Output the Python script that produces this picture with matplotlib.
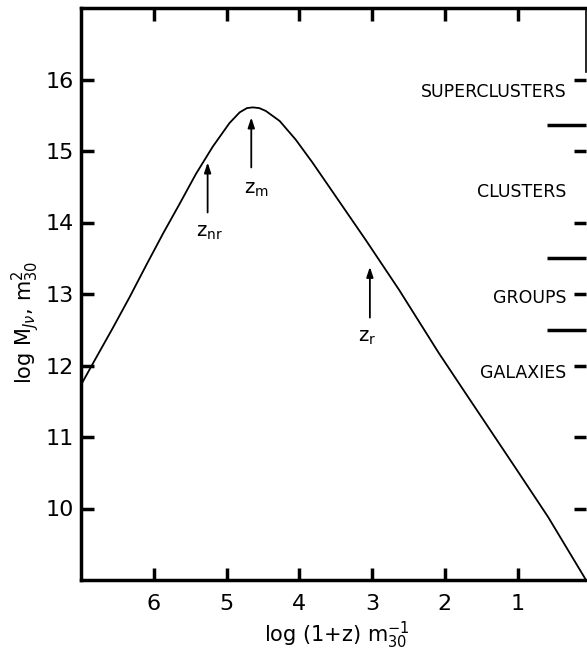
import matplotlib
matplotlib.use("Agg")
import matplotlib.pyplot as plt
import numpy as np

# Curve: log(1+z) m30^-1  vs  log M_J,nu m30^2
log_1pz = [7.01, 6.83, 6.56, 6.33, 6.10, 5.87, 5.64, 5.42, 5.19, 4.96, 4.82, 4.72,
           4.64, 4.55, 4.46, 4.27, 4.05, 3.82, 3.59, 3.09, 2.63, 2.08, 1.72, 1.03,
           0.58, 0.06]
log_MJ = [11.71, 12.04, 12.53, 12.96, 13.41, 13.85, 14.27, 14.68, 15.06, 15.39, 15.54,
          15.60, 15.61, 15.60, 15.56, 15.42, 15.16, 14.84, 14.50, 13.76, 13.06, 12.17,
          11.62, 10.57, 9.88, 9.0]

# Arrows (x, tail y, tip y) and labels
arrow_names = [r"z$_{\rm nr}$", r"z$_{\rm m}$", r"z$_{\rm r}$"]
arrow_x = [5.26, 4.66, 3.03]
arrow_tail = [14.14, 14.77, 12.67]
arrow_tip = [14.84, 15.47, 13.38]
arrow_label_x = [5.23, 4.59, 3.07]
arrow_label_y = [13.86, 14.46, 12.39]

# Structure scale on right side
struct_names = ["SUPERCLUSTERS", "CLUSTERS", "GROUPS", "GALAXIES"]
struct_y = [15.83, 14.42, 12.95, 11.90]
struct_bounds = [15.36, 13.5, 12.5]

x_ticks = [6, 5, 4, 3, 2, 1]
y_ticks = [10, 11, 12, 13, 14, 15, 16]

fig = plt.figure(figsize=(5.87, 6.57), dpi=100)
ax = fig.add_axes([81/587, 77/657, 505/587, 572/657])

ax.plot(log_1pz, log_MJ, color="black", lw=1.3, solid_joinstyle="round")

for x, t0, t1 in zip(arrow_x, arrow_tail, arrow_tip):
    ax.annotate("", xy=(x, t1), xytext=(x, t0),
                arrowprops=dict(arrowstyle="-|>,head_length=0.6,head_width=0.2",
                                color="black", lw=1.3, shrinkA=0, shrinkB=0))
for name, x, y in zip(arrow_names, arrow_label_x, arrow_label_y):
    ax.text(x, y, name, ha="center", va="center", fontsize=14)

for name, y in zip(struct_names, struct_y):
    ax.text(0.33, y, name, ha="right", va="center", fontsize=12.5)

ax.set_xlim(7.0, 0.06)
ax.set_ylim(9.0, 17.0)
ax.set_xticks(x_ticks)
ax.set_xticklabels([str(v) for v in x_ticks])
ax.set_yticks(y_ticks)
ax.set_yticklabels([str(v) for v in y_ticks])
ax.set_yticks(struct_bounds, minor=True)

for s in ["left", "bottom", "top"]:
    ax.spines[s].set_linewidth(2.5)
ax.spines["right"].set_linewidth(1.2)
ax.spines["right"].set_bounds(16.1, 17.0)

ax.tick_params(axis="x", which="major", direction="in", top=True, bottom=True,
               length=9, width=2.5, labelsize=16, pad=10)
ax.tick_params(axis="y", which="major", direction="in", left=True, right=True,
               length=9, width=2.5, labelsize=16, pad=5)
ax.tick_params(axis="y", which="minor", direction="in", left=False, right=True,
               length=28, width=2.5)

fig.text(337/587, 1 - 635/657, r"log (1+z) m$^{-1}_{30}$", ha="center", va="center",
         fontsize=15)
fig.text(25/587, 1 - 322/657, r"log M$_{J\nu}$, m$^{2}_{30}$", ha="center", va="center",
         fontsize=15, rotation=90)

fig.savefig("out.png", dpi=100)
